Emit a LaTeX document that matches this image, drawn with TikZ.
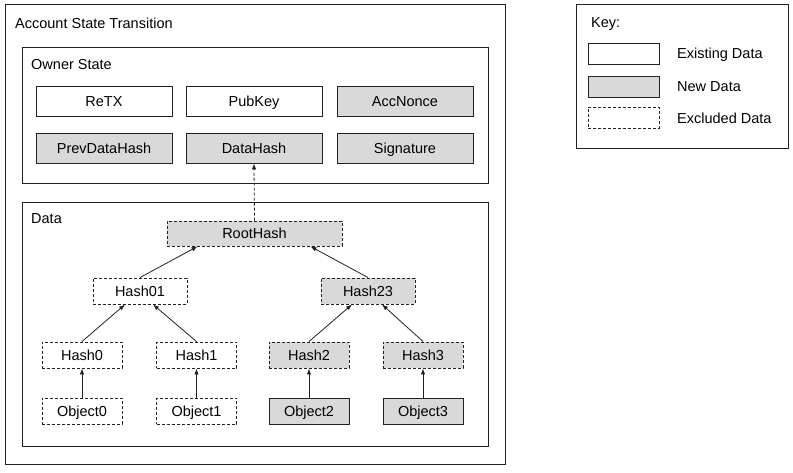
\documentclass[tikz,border=0pt]{standalone}
\usepackage{fontspec}
\setmainfont{Liberation Sans}
\usetikzlibrary{arrows.meta}

\definecolor{keygray}{HTML}{D9D9D9}
\definecolor{linegray}{HTML}{222222}

\tikzset{
  frame/.style={draw=linegray, line width=0.9pt, inner sep=0pt},
  box/.style={frame, minimum height=26pt, text height=10.5pt, text depth=0pt,
    font=\fontsize{14.5}{17}\selectfont},
  newbox/.style={box, fill=keygray},
  exbox/.style={box, dash pattern=on 3pt off 2pt},
  boxtitle/.style={anchor=west, inner sep=0pt, font=\fontsize{14.5}{17}\selectfont},
  hasharrow/.style={draw=linegray, line width=0.8pt, -{Latex[length=6pt,width=4.5pt]}}
}

\begin{document}
\begin{tikzpicture}[x=1pt,y=-1pt]

  \useasboundingbox (0,0) rectangle (793,472);

  % containers
  \node[frame, minimum width=500pt, minimum height=460pt] (transition) at (255,234) {};
  \node[boxtitle] (transitiontitle) at (15,23) {Account State Transition};

  \node[frame, minimum width=466pt, minimum height=136pt] (owner) at (255,115) {};
  \node[boxtitle] (ownertitle) at (31,65) {Owner State};

  \node[frame, minimum width=466pt, minimum height=244pt] (data) at (255,324) {};
  \node[boxtitle] (datatitle) at (31,219) {Data};

  % owner state fields
  \node[box, minimum width=136pt, minimum height=30pt] (retx) at (104,101) {ReTX};
  \node[box, minimum width=136pt, minimum height=30pt] (pubkey) at (254,101) {PubKey};
  \node[newbox, minimum width=136pt, minimum height=30pt] (accnonce) at (405,101) {AccNonce};
  \node[newbox, minimum width=136pt, minimum height=30pt] (prevdatahash) at (104,148) {PrevDataHash};
  \node[newbox, minimum width=136pt, minimum height=30pt] (datahash) at (254,148) {DataHash};
  \node[newbox, minimum width=136pt, minimum height=30pt] (signature) at (405,148) {Signature};

  % hash tree
  \node[exbox, fill=keygray, minimum width=175pt, minimum height=25pt] (roothash) at (254.5,233.5) {RootHash};
  \node[exbox, minimum width=94pt] (hash01) at (140,291) {Hash01};
  \node[exbox, fill=keygray, minimum width=94pt] (hash23) at (368,291) {Hash23};

  \foreach \i/\x in {0/82,1/196.5}
    {
      \node[exbox, minimum width=80pt] (hash\i) at (\x,355) {Hash\i};
      \node[exbox, minimum width=80pt] (object\i) at (\x,411) {Object\i};
      \draw[hasharrow] (object\i) -- (hash\i);
    }
  \foreach \i/\x in {2/309,3/423}
    {
      \node[exbox, fill=keygray, minimum width=80pt] (hash\i) at (\x,355) {Hash\i};
      \node[newbox, minimum width=80pt] (object\i) at (\x,411) {Object\i};
      \draw[hasharrow] (object\i) -- (hash\i);
    }

  \draw[hasharrow] (hash0.north) -- ([xshift=-15pt]hash01.south);
  \draw[hasharrow] (hash1.north) -- ([xshift=13pt]hash01.south);
  \draw[hasharrow] (hash2.north) -- ([xshift=-16pt]hash23.south);
  \draw[hasharrow] (hash3.north) -- ([xshift=14pt]hash23.south);
  \draw[hasharrow] (hash01.north) -- ([xshift=-57pt]roothash.south);
  \draw[hasharrow] (hash23.north) -- ([xshift=56pt]roothash.south);
  \draw[hasharrow, dash pattern=on 3pt off 2pt] (roothash.north) -- (datahash.south);

  % key
  \node[frame, minimum width=212pt, minimum height=144pt] (key) at (682,76) {};
  \node[boxtitle] (keytitle) at (591,24) {Key:};
  \node[box, minimum width=71pt, minimum height=21pt] (keyexisting) at (623.5,53.5) {};
  \node[newbox, minimum width=71pt, minimum height=21pt] (keynew) at (623.5,86.5) {};
  \node[exbox, minimum width=71pt, minimum height=21pt] (keyexcluded) at (623.5,117.5) {};
  \node[boxtitle] (existinglabel) at (677,55) {Existing Data};
  \node[boxtitle] (newlabel) at (677,87) {New Data};
  \node[boxtitle] (excludedlabel) at (677,118) {Excluded Data};

\end{tikzpicture}
\end{document}
